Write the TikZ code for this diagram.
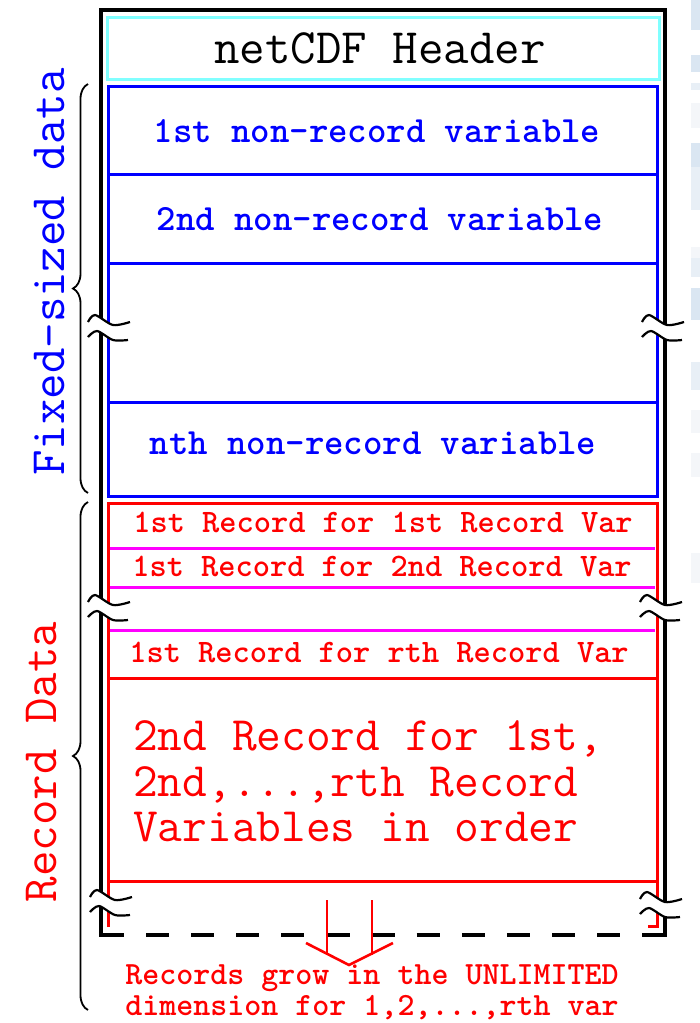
\documentclass[tikz,border=0pt]{standalone}
\usepackage{fontspec}
\usetikzlibrary{decorations.pathreplacing}
\definecolor{hdrcyan}{RGB}{128,255,255}
\definecolor{pblue}{RGB}{0,0,255}
\definecolor{pred}{RGB}{255,0,0}
\definecolor{pmag}{RGB}{255,0,255}
\definecolor{stripA}{RGB}{218,230,242}
\definecolor{stripB}{RGB}{232,239,246}
\definecolor{stripC}{RGB}{244,246,249}
\tikzset{
  pics/brkmark/.style={code={
    \fill[white] plot[smooth] coordinates {(0,0) (7,-7) (25,3) (42,0)}
      -- plot[smooth] coordinates {(40,18) (25,18) (9,9) (0,15)} -- cycle;
    \draw[brkline] plot[smooth] coordinates {(0,0) (7,-7) (25,3) (42,0)};
    \draw[brkline] plot[smooth] coordinates {(0,15) (9,9) (25,18) (40,18)};
  }},
  brkline/.style={line width=2.2pt, draw=black},
}
\begin{document}
\begin{tikzpicture}[x=1pt,y=-1pt,
  outerframe/.style={line width=3.2pt, draw=black},
  hdrbox/.style={line width=3pt, draw=hdrcyan},
  bluebox/.style={line width=3pt, draw=pblue},
  redbox/.style={line width=3pt, draw=pred},
  magline/.style={line width=3pt, draw=pmag},
  txtbase/.style={inner sep=0pt},
  hdrtxt/.style={txtbase, font=\ttfamily\fontsize{49.5}{55}\selectfont},
  nrtxt/.style={txtbase, text=pblue, font=\ttfamily\bfseries\fontsize{37}{42}\selectfont},
  rectxt/.style={txtbase, text=pred, font=\ttfamily\bfseries\fontsize{32.8}{38}\selectfont},
  growtxt/.style={txtbase, text=pred, align=center, font=\ttfamily\bfseries\fontsize{32.4}{31}\selectfont},
  bigtxt/.style={txtbase, text=pred, anchor=base west, font=\ttfamily\fontsize{48}{52}\selectfont},
  sidetxt/.style={txtbase, rotate=90, font=\ttfamily\fontsize{49.5}{55}\selectfont},
  bracestyle/.style={line width=1.8pt, draw=black, decorate, decoration={brace, amplitude=15pt}},
  arrowline/.style={line width=2.6pt, draw=pred},
]
\useasboundingbox (0,0) rectangle (700,1023);
\fill[white] (0,0) rectangle (700,1023);
% faint strip at right edge
\fill[stripA] (691,0) rectangle (700,30);
\fill[stripA] (691,55) rectangle (700,72);
\fill[stripB] (691,83) rectangle (700,90);
\fill[stripC] (691,103) rectangle (700,128);
\fill[stripA] (691,143) rectangle (700,167);
\fill[stripB] (691,167) rectangle (700,210);
\fill[stripC] (691,247) rectangle (700,258);
\fill[stripB] (691,258) rectangle (700,277);
\fill[stripA] (691,288) rectangle (700,320);
\fill[stripB] (691,362) rectangle (700,390);
\fill[stripC] (691,410) rectangle (700,433);
\fill[stripC] (691,453) rectangle (700,477);
\fill[stripC] (691,553) rectangle (700,583);

% outer frame
\draw[outerframe] (101,936.6) -- (101,10) -- (665,10) -- (665,936.6);
\draw[outerframe, dash pattern=on 23pt off 22.1pt] (101,935) -- (665,935);

% header
\draw[hdrbox] (107,17) rectangle (659,79);
\node[hdrtxt] (hdr) at (380,48) {netCDF Header};

% fixed-size data
\draw[bluebox] (108,86) rectangle (657,496);
\draw[bluebox] (108,174) -- (657,174);
\draw[bluebox] (108,263) -- (657,263);
\draw[bluebox] (108,402) -- (657,402);
\node[nrtxt] (nr1) at (377,131) {1st non-record variable};
\node[nrtxt] (nr2) at (380,219) {2nd non-record variable};
\node[nrtxt] (nrn) at (373,443) {nth non-record variable};

% record data
\draw[redbox] (108,927) -- (108,503) -- (657,503) -- (657,927);
\draw[redbox] (108,881) -- (657,881);
\draw[redbox] (108,678) -- (657,678);
\draw[redbox] (648,926) -- (658.5,926);
\draw[magline] (110,548) -- (655,548);
\draw[magline] (110,587) -- (655,587);
\draw[magline] (110,630) -- (655,630);
\node[rectxt] (r1) at (383,522) {1st Record for 1st Record Var};
\node[rectxt] (r2) at (382,566) {1st Record for 2nd Record Var};
\node[rectxt] (rr) at (379,652) {1st Record for rth Record Var};
\node[bigtxt] (big1) at (133,750) {2nd Record for 1st,};
\node[bigtxt] (big2) at (133,796) {2nd,...,rth Record};
\node[bigtxt] (big3) at (133,841) {Variables in order};

% braces and side labels
\draw[bracestyle] (88,493) -- (88,84);
\draw[bracestyle] (88,1010) -- (88,502);
\node[sidetxt, text=pblue] (fixlbl) at (50,272) {Fixed-sized data};
\node[sidetxt, text=pred] (reclbl) at (42,762) {Record Data};

% break marks
\pic at (88,322) {brkmark};
\pic at (642,322) {brkmark};
\pic at (88,602) {brkmark};
\pic at (640,602) {brkmark};
\pic at (90,897) {brkmark};
\pic at (640,899) {brkmark};

% growth arrow
\coordinate (aTL) at (327,900);
\coordinate (aBL) at (327,955);
\coordinate (aTR) at (372,900);
\coordinate (aBR) at (372,955);
\coordinate (chL) at (306,943);
\coordinate (chT) at (349,965);
\coordinate (chR) at (393,943);
\draw[arrowline] (aTL) -- (aBL);
\draw[arrowline] (aTR) -- (aBR);
\draw[arrowline] (chL) -- (chT) -- (chR);
\node[growtxt] (grow) at (372,992) {Records grow in the UNLIMITED\\dimension for 1,2,...,rth var};
\end{tikzpicture}
\end{document}
